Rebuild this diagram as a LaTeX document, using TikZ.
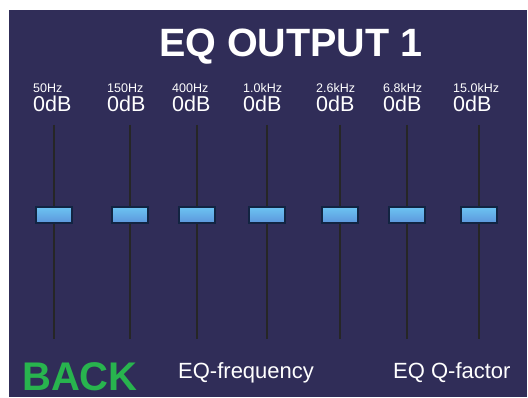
\documentclass[tikz,border=0pt]{standalone}
\usepackage{fontspec}
\setmainfont{Liberation Sans}
\usetikzlibrary{positioning}
\definecolor{panelbg}{RGB}{48,45,88}
\definecolor{knobtop}{RGB}{108,196,242}
\definecolor{knobbot}{RGB}{92,150,220}
\definecolor{knobedge}{RGB}{18,36,66}
\definecolor{backgreen}{RGB}{40,180,78}
\tikzset{
	knob/.style={draw=knobedge,line width=1.6pt,top color=knobtop,bottom color=knobbot,
		minimum width=36pt,minimum height=16pt,inner sep=0pt},
	rail/.style={line width=1.6pt,draw=black!85},
	freqlbl/.style={anchor=base west,inner sep=0pt,text=white,font=\fontsize{12.5}{13}\selectfont},
	gainlbl/.style={anchor=base west,inner sep=0pt,text=white,font=\fontsize{21.5}{22}\selectfont},
	menulbl/.style={anchor=base west,inner sep=0pt,text=white,font=\fontsize{22}{23}\selectfont}
}
\begin{document}
\begin{tikzpicture}[x=1pt,y=-1pt]
	\useasboundingbox (0,0) rectangle (528,398);
	\fill[panelbg] (9,10) rectangle (527,397);
	
	\node[anchor=base west,inner sep=0pt,text=white,
	font=\fontsize{39.5}{41}\selectfont\bfseries] (title) at (159,57) {EQ OUTPUT 1};
	
	% one slider per band: rail x / label x / frequency
	\foreach \i/\x/\lx/\f in {1/54/33/50Hz,2/130/107/150Hz,3/197/172/400Hz,
		4/267/243/1.0kHz,5/340/316/2.6kHz,6/407/383/6.8kHz,7/479/453/15.0kHz}{
		\node[freqlbl] (f\i) at (\lx,93) {\f};
		\node[gainlbl] (g\i) at (\lx,112) {0dB};
		\coordinate (top\i) at (\x,125);
		\coordinate (bot\i) at (\x,339);
		\draw[rail] (top\i) -- (bot\i);
		\node[knob] (k\i) at (\x,215) {};
	}
	
	\node[anchor=base west,inner sep=0pt,text=backgreen,
	font=\fontsize{40}{42}\selectfont\bfseries] (back) at (22,390) {BACK};
	\node[menulbl] (eqfreq) at (178,378) {EQ-frequency};
	\node[menulbl] (eqq) at (393,378) {EQ Q-factor};
\end{tikzpicture}
\end{document}
